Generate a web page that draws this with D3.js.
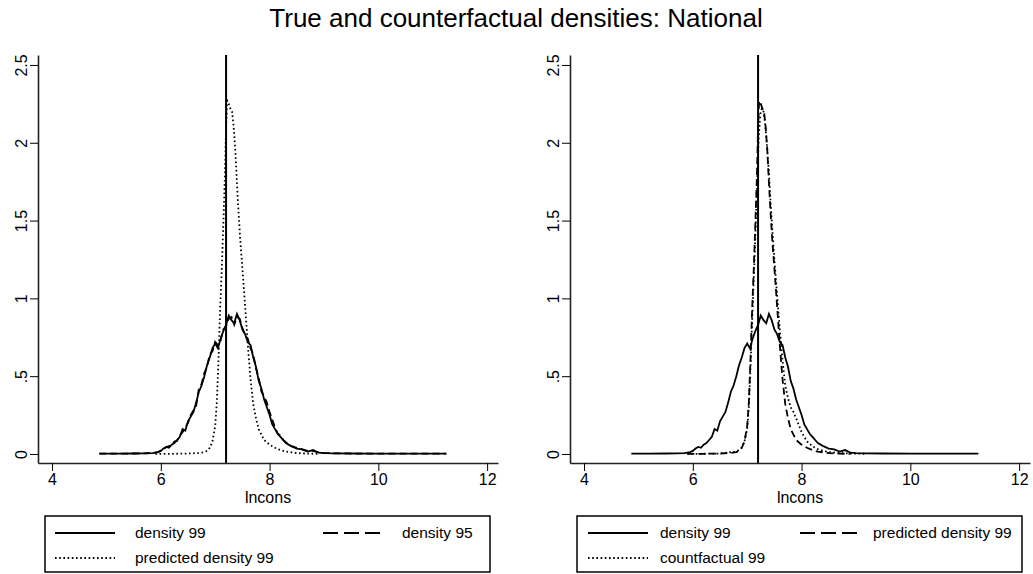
<!DOCTYPE html>
<html>
<head>
<meta charset="utf-8">
<script src="https://cdn.jsdelivr.net/npm/d3@7"></script>
<style>
  body { margin: 0; background: #fff; }
  svg { font-family: "Liberation Sans", Arial, sans-serif; }
</style>
</head>
<body>
<div id="chart"></div>
<script>
// lncons grid for the two observed densities
const xDens = [4.87, 5.2, 5.5, 5.7, 5.85, 5.95, 6.0, 6.05, 6.1, 6.15, 6.2, 6.25, 6.3, 6.35, 6.4, 6.45, 6.5, 6.55, 6.6, 6.65,
  6.7, 6.75, 6.8, 6.85, 6.9, 6.95, 7.0, 7.05, 7.1, 7.15, 7.2, 7.25, 7.3, 7.35, 7.4, 7.45, 7.5, 7.55, 7.6, 7.65,
  7.7, 7.75, 7.8, 7.85, 7.9, 7.95, 8.0, 8.05, 8.1, 8.15, 8.2, 8.25, 8.3, 8.35, 8.4, 8.5, 8.6, 8.7, 8.8, 8.9,
  9.0, 9.2, 9.5, 10.0, 10.5, 11.25];
const yDensity99 = [0.002, 0.002, 0.003, 0.004, 0.006, 0.012, 0.02, 0.035, 0.045, 0.04, 0.06, 0.07, 0.09, 0.11, 0.16, 0.15, 0.21, 0.24, 0.27, 0.33,
  0.40, 0.44, 0.50, 0.57, 0.62, 0.68, 0.71, 0.68, 0.74, 0.79, 0.83, 0.89, 0.86, 0.84, 0.90, 0.86, 0.80, 0.77, 0.72, 0.70,
  0.62, 0.56, 0.47, 0.42, 0.35, 0.30, 0.25, 0.19, 0.16, 0.13, 0.11, 0.09, 0.07, 0.06, 0.05, 0.035, 0.03, 0.015, 0.025, 0.008,
  0.006, 0.004, 0.003, 0.002, 0.002, 0.002];
const yDensity95 = [0.002, 0.002, 0.003, 0.004, 0.007, 0.012, 0.022, 0.03, 0.045, 0.05, 0.055, 0.08, 0.085, 0.12, 0.14, 0.17, 0.20, 0.25, 0.28, 0.31,
  0.42, 0.45, 0.52, 0.56, 0.64, 0.66, 0.72, 0.70, 0.73, 0.80, 0.82, 0.87, 0.88, 0.83, 0.88, 0.87, 0.81, 0.76, 0.74, 0.68,
  0.64, 0.55, 0.49, 0.40, 0.37, 0.33, 0.27, 0.22, 0.17, 0.13, 0.12, 0.09, 0.075, 0.06, 0.05, 0.04, 0.03, 0.02, 0.02, 0.01,
  0.006, 0.004, 0.003, 0.002, 0.002, 0.002];

// predicted density 99
const xPred = [5.9, 6.2, 6.5, 6.7, 6.8, 6.85, 6.9, 6.95, 7.0, 7.03, 7.06, 7.09, 7.12, 7.15, 7.18, 7.2, 7.22, 7.25, 7.28, 7.31,
  7.34, 7.37, 7.4, 7.43, 7.46, 7.49, 7.52, 7.55, 7.6, 7.65, 7.7, 7.75, 7.8, 7.9, 8.0, 8.1, 8.2, 8.3, 8.5, 8.7, 8.9];
const yPred = [0.0, 0.001, 0.003, 0.006, 0.012, 0.02, 0.04, 0.08, 0.18, 0.33, 0.60, 0.92, 1.18, 1.48, 1.80, 2.10, 2.27, 2.25, 2.22, 2.20,
  2.10, 1.95, 1.74, 1.55, 1.38, 1.24, 1.10, 0.95, 0.70, 0.48, 0.32, 0.23, 0.16, 0.09, 0.06, 0.04, 0.025, 0.015, 0.006, 0.002, 0.001];

// countfactual 99
const xCount = [5.9, 6.5, 6.8, 6.9, 6.95, 7.0, 7.03, 7.06, 7.09, 7.12, 7.15, 7.18, 7.21, 7.24, 7.27, 7.30, 7.33, 7.36, 7.4, 7.43,
  7.46, 7.5, 7.55, 7.6, 7.65, 7.7, 7.75, 7.8, 7.85, 7.9, 8.0, 8.1, 8.2, 8.3, 8.5, 8.8, 9.2];
const yCount = [0, 0.003, 0.015, 0.04, 0.08, 0.16, 0.30, 0.55, 0.85, 1.12, 1.40, 1.72, 2.02, 2.18, 2.22, 2.20, 2.12, 2.00, 1.80, 1.62,
  1.45, 1.25, 1.02, 0.80, 0.60, 0.44, 0.36, 0.30, 0.27, 0.23, 0.14, 0.08, 0.05, 0.03, 0.012, 0.004, 0.001];

const xTicks = [4, 6, 8, 10, 12];
const yTicks = [0, 0.5, 1, 1.5, 2, 2.5];
const yTickLabels = ['0', '.5', '1', '1.5', '2', '2.5'];
const xLineAt = 7.2;

const W = 1033, H = 574;
const svg = d3.select('#chart').append('svg')
  .attr('width', W).attr('height', H);

svg.append('text')
  .attr('x', 516).attr('y', 27)
  .attr('text-anchor', 'middle')
  .attr('font-size', '26px')
  .text('True and counterfactual densities: National');

const styles = {
  solid: null,
  dashed: '7,4',
  dotted: '1.6,2.6'
};

const zip = (xs, ys) => xs.map((x, i) => [x, ys[i]]);

function drawPanel(p) {
  const x = d3.scaleLinear().domain([3.742, 12.2]).range([p.left, p.left + 460]);
  const y = d3.scaleLinear().domain([-0.058, 2.564]).range([463, 55]);
  const g = svg.append('g');

  // curves
  const line = d3.line().x(d => x(d[0])).y(d => y(d[1]));
  p.series.forEach(s => {
    g.append('path')
      .datum(zip(s.xs, s.ys))
      .attr('fill', 'none')
      .attr('stroke', '#000')
      .attr('stroke-width', 1.8)
      .attr('stroke-dasharray', styles[s.style])
      .attr('d', line);
  });

  // vertical reference line
  g.append('line')
    .attr('x1', x(xLineAt)).attr('x2', x(xLineAt))
    .attr('y1', y.range()[0]).attr('y2', y.range()[1])
    .attr('stroke', '#000').attr('stroke-width', 2);

  // axes
  const xAxis = g.append('g')
    .attr('transform', 'translate(0,463)')
    .call(d3.axisBottom(x).tickValues(xTicks).tickSize(8).tickSizeOuter(0).tickPadding(3));
  xAxis.selectAll('text').attr('font-size', '16px').attr('fill', '#000')
    .attr('font-family', '"Liberation Sans", Arial, sans-serif');

  const yAxis = g.append('g')
    .attr('transform', `translate(${p.left},0)`)
    .call(d3.axisLeft(y).tickValues(yTicks).tickSize(8).tickSizeOuter(0).tickFormat((d, i) => yTickLabels[i]));
  yAxis.selectAll('text')
    .attr('font-size', '16px').attr('fill', '#000')
    .attr('font-family', '"Liberation Sans", Arial, sans-serif')
    .attr('text-anchor', 'middle')
    .attr('x', null).attr('dy', null)
    .attr('transform', 'translate(-11,0) rotate(-90)');
  svg.selectAll('.domain').attr('stroke', '#222').attr('stroke-width', 1.6);

  g.append('text')
    .attr('x', (x.range()[0] + x.range()[1]) / 2).attr('y', 503)
    .attr('text-anchor', 'middle').attr('font-size', '16px')
    .text('lncons');

  // legend
  const lg = g.append('g');
  lg.append('rect')
    .attr('x', p.left + 7).attr('y', 516)
    .attr('width', 445).attr('height', 56)
    .attr('fill', 'none').attr('stroke', '#000').attr('stroke-width', 1.5);
  p.series.filter(s => s.label).forEach(s => {
    const ox = p.left + s.lx, oy = s.ly;
    lg.append('line')
      .attr('x1', ox).attr('x2', ox + 60).attr('y1', oy).attr('y2', oy)
      .attr('stroke', '#000').attr('stroke-width', 1.8)
      .attr('stroke-dasharray', s.style === 'dashed' ? '15,6' : styles[s.style]);
    lg.append('text')
      .attr('x', ox + s.tx).attr('y', oy + 5)
      .attr('font-size', '15.5px')
      .text(s.label);
  });
}

drawPanel({
  left: 38,
  series: [
    { xs: xPred, ys: yPred, style: 'dotted', label: 'predicted density 99', lx: 17, ly: 558, tx: 80 },
    { xs: xDens, ys: yDensity95, style: 'dashed', label: 'density 95', lx: 285, ly: 533, tx: 79 },
    { xs: xDens, ys: yDensity99, style: 'solid', label: 'density 99', lx: 17, ly: 533, tx: 80 }
  ]
});

drawPanel({
  left: 570,
  series: [
    { xs: xCount, ys: yCount, style: 'dotted', label: 'countfactual 99', lx: 18, ly: 558, tx: 72 },
    { xs: xPred, ys: yPred, style: 'dashed', label: 'predicted density 99', lx: 230, ly: 533, tx: 73 },
    { xs: xDens, ys: yDensity99, style: 'solid', label: 'density 99', lx: 18, ly: 533, tx: 72 }
  ]
});
</script>
</body>
</html>
